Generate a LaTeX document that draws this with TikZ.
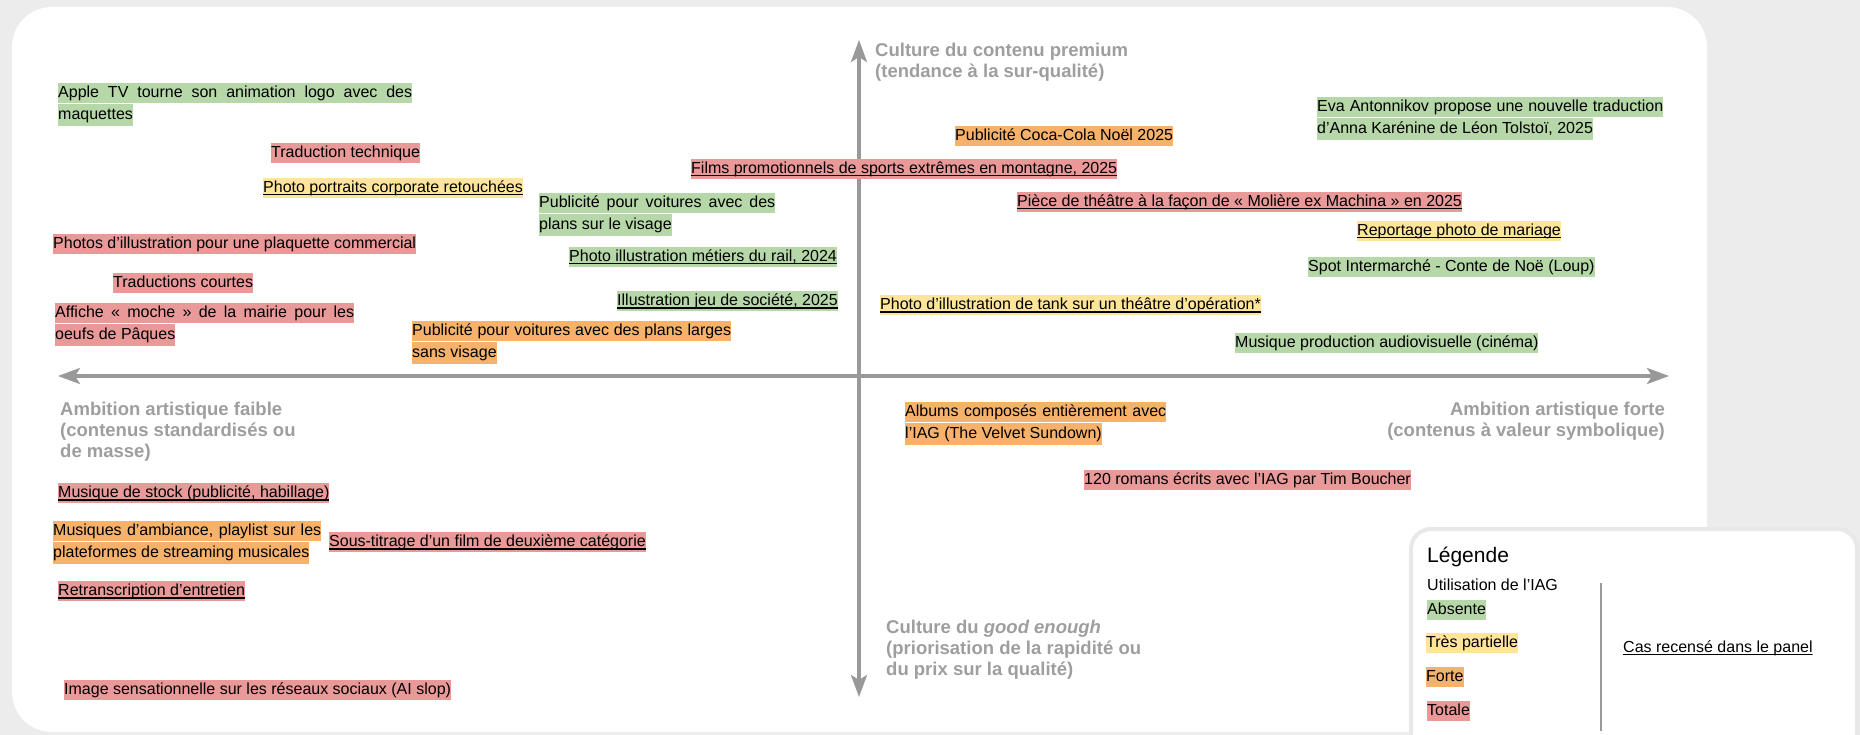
\documentclass[tikz,border=0pt]{standalone}
\usepackage{fontspec}
\setmainfont{Liberation Sans}
\usetikzlibrary{arrows.meta,positioning}
\definecolor{absentecolor}{RGB}{182,215,168}
\definecolor{partiellecolor}{RGB}{255,229,153}
\definecolor{fortecolor}{RGB}{246,178,107}
\definecolor{totalecolor}{RGB}{234,153,153}
\definecolor{axisgray}{RGB}{153,153,153}
\definecolor{labelgray}{RGB}{158,158,158}
\definecolor{canvasgray}{RGB}{236,236,236}
\definecolor{legendgray}{RGB}{232,232,232}
\newcommand{\justline}[2]{\makebox[#1][s]{#2}}

\begin{document}
\begin{tikzpicture}[x=1pt, y=-1pt,
    item/.style={anchor=north west, inner xsep=0pt, inner ysep=0.25pt, text height=14pt, text depth=5.5pt, font=\fontsize{16}{19}\selectfont},
    suite/.style={text height=15.75pt, text depth=6pt},
    absente/.style={item, fill=absentecolor},
    partielle/.style={item, fill=partiellecolor},
    forte/.style={item, fill=fortecolor},
    totale/.style={item, fill=totalecolor},
    souligne/.style={path picture={\draw[line width=1.6pt] ([yshift=3.5pt]path picture bounding box.south west) -- ([yshift=3.5pt]path picture bounding box.south east);}},
    axe/.style={draw=axisgray, line width=3.5pt, {Stealth[length=22pt, width=16pt, inset=5pt]}-{Stealth[length=22pt, width=16pt, inset=5pt]}},
    axelabel/.style={inner sep=0pt, text=labelgray, font=\fontsize{18.5}{21}\selectfont\bfseries}
]
\useasboundingbox (0,0) rectangle (1860,735);

% Background and panel
\fill[canvasgray] (0,0) rectangle (1860,735);
\fill[white, rounded corners=40pt] (12,7) rectangle (1707,732);

% Axes
\coordinate (axtop) at (859,40);
\coordinate (axbottom) at (859,697);
\coordinate (axleft) at (58,376);
\coordinate (axright) at (1669,376);
\draw[axe] (axbottom) -- (axtop);
\draw[axe] (axleft) -- (axright);

\node[axelabel, anchor=north west, align=left] (premium) at (875,43) {Culture du contenu premium\\(tendance à la sur-qualité)};
\node[axelabel, anchor=north west, align=left] (ambfaible) at (60,402) {Ambition artistique faible\\(contenus standardisés ou\\de masse)};
\node[axelabel, anchor=north east, align=right] (ambforte) at (1665,402) {Ambition artistique forte\\(contenus à valeur symbolique)};
\node[axelabel, anchor=north west, align=left] (goodenough) at (886,620) {Culture du \textit{good enough}\\(priorisation de la rapidité ou\\du prix sur la qualité)};

% Upper left
\node[absente] (apple) at (58,83) {\justline{354pt}{Apple TV tourne son animation logo avec des}};
\node[absente, suite] (apple2) at (apple.south west) {maquettes};
\node[totale] (tradtech) at (271,143) {Traduction technique};
\node[partielle, souligne] (portraits) at (263,178) {Photo portraits corporate retouchées};
\node[absente] (pubvisage) at (539,193) {\justline{236pt}{Publicité pour voitures avec des}};
\node[absente, suite] (pubvisage2) at (pubvisage.south west) {plans sur le visage};
\node[totale] (plaquette) at (53,234) {Photos d’illustration pour une plaquette commercial};
\node[absente, souligne] (rail) at (569,247) {Photo illustration métiers du rail, 2024};
\node[totale] (courtes) at (113,273) {Traductions courtes};
\node[totale] (affiche) at (55,303) {\justline{299pt}{Affiche « moche » de la mairie pour les}};
\node[totale, suite] (affiche2) at (affiche.south west) {oeufs de Pâques};
\node[absente, souligne] (jeu) at (617,291) {Illustration jeu de société, 2025};
\node[forte] (larges) at (412,321) {\justline{319pt}{Publicité pour voitures avec des plans larges}};
\node[forte, suite] (larges2) at (larges.south west) {sans visage};

% Upper right
\node[forte] (coca) at (955,126) {Publicité Coca-Cola Noël 2025};
\node[totale, souligne] (films) at (691,159) {Films promotionnels de sports extrêmes en montagne, 2025};
\node[totale, souligne] (moliere) at (1017,192) {Pièce de théâtre à la façon de « Molière ex Machina » en 2025};
\node[partielle, souligne] (tank) at (880,295) {Photo d’illustration de tank sur un théâtre d’opération*};
\node[absente] (cinema) at (1235,333) {Musique production audiovisuelle (cinéma)};
\node[absente] (eva) at (1317,97) {\justline{346pt}{Eva Antonnikov propose une nouvelle traduction}};
\node[absente, suite] (eva2) at (eva.south west) {d’Anna Karénine de Léon Tolstoï, 2025};
\node[partielle, souligne] (mariage) at (1357,221) {Reportage photo de mariage};
\node[absente] (intermarche) at (1308,257) {Spot Intermarché - Conte de Noë (Loup)};

% Lower left
\node[totale, souligne] (stock) at (58,483) {Musique de stock (publicité, habillage)};
\node[forte] (ambiance) at (53,521) {\justline{268pt}{Musiques d’ambiance, playlist sur les}};
\node[forte, suite] (ambiance2) at (ambiance.south west) {plateformes de streaming musicales};
\node[totale, souligne] (soustitres) at (329,532) {Sous-titrage d’un film de deuxième catégorie};
\node[totale, souligne] (entretien) at (58,581) {Retranscription d’entretien};
\node[totale] (slop) at (64,680) {Image sensationnelle sur les réseaux sociaux (AI slop)};

% Lower right
\node[forte] (albums) at (905,402) {\justline{261pt}{Albums composés entièrement avec}};
\node[forte, suite] (albums2) at (albums.south west) {l’IAG (The Velvet Sundown)};
\node[totale] (romans) at (1084,470) {120 romans écrits avec l'IAG par Tim Boucher};

% Legend
\draw[draw=legendgray, line width=4pt, fill=white, rounded corners=20pt] (1411,529) rectangle (1857,770);
\node[anchor=base west, inner sep=0pt, font=\fontsize{21}{25}\selectfont] (legende) at (1427,562) {Légende};
\node[anchor=base west, inner sep=0pt, font=\fontsize{16}{19}\selectfont] (usage) at (1427,590) {Utilisation de l’IAG};
\node[absente] (legabsente) at (1427,600) {Absente};
\node[partielle] (legpartielle) at (1426,633) {Très partielle};
\node[forte] (legforte) at (1426,667) {Forte};
\node[totale] (legtotale) at (1427,701) {Totale};
\draw[axisgray, line width=2pt] (1601,583) -- (1601,731);
\node[item, fill=white, souligne] (cas) at (1623,637.75) {Cas recensé dans le panel};

\end{tikzpicture}
\end{document}
